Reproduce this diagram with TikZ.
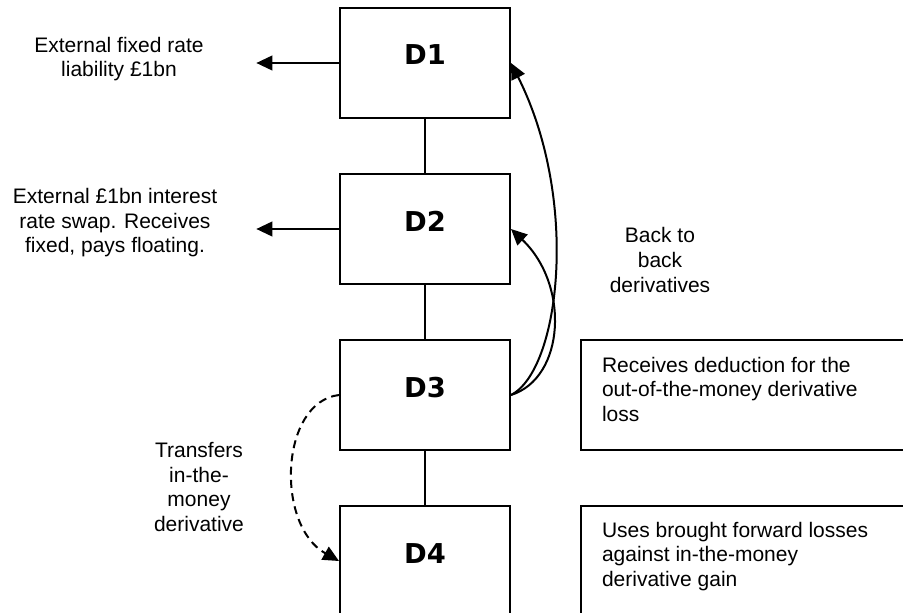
\documentclass[tikz,border=0pt]{standalone}
\usepackage{fontspec}
\setmainfont{Liberation Sans}
\newfontfamily\boxfont{DejaVu Sans}
\usetikzlibrary{arrows.meta,positioning}

\begin{document}
\begin{tikzpicture}[x=0.75pt,y=0.75pt,node distance=40.5pt,line width=1.5pt,
   >={Triangle[length=12pt,width=11pt]},
   dbox/.style={draw,minimum width=127.5pt,minimum height=82.5pt,text height=15pt,text depth=12pt,
      font=\boxfont\bfseries\fontsize{20.5}{24}\selectfont},
   notebox/.style={draw,minimum width=260pt,minimum height=82.5pt},
   txt/.style={draw=none,align=center,font=\fontsize{15.75}{18.4}\selectfont},
   notetxt/.style={draw=none,align=left,inner sep=0pt,anchor=north west,font=\fontsize{15.75}{18.4}\selectfont},
   link/.style={line width=1pt}]

   \useasboundingbox (0,0) rectangle (903,-613);

   \node[dbox] (d1) at (425,-63) {D1};
   \node[dbox,below=of d1] (d2) {D2};
   \node[dbox,below=of d2] (d3) {D3};
   \node[dbox,below=of d3] (d4) {D4};

   \draw[link] (d1) -- (d2);
   \draw[link] (d2) -- (d3);
   \draw[link] (d3) -- (d4);

   \node[notebox,right=51.75pt of d3] (n3) {};
   \node[notebox,right=51.75pt of d4] (n4) {};
   \node[notetxt] (t3) at ([xshift=15.75pt,yshift=-12.75pt]n3.north west) {Receives deduction for the\\out-of-the-money derivative\\loss};
   \node[notetxt] (t4) at ([xshift=15.75pt,yshift=-12pt]n4.north west) {Uses brought forward losses\\against in-the-money\\derivative gain};

   \node[txt] (l1) at (119,-59) {External fixed rate\\liability £1bn};
   \node[txt] (l2) at (115,-223) {External £1bn interest\\rate swap. Receives\\fixed, pays floating.};
   \node[txt] (l3) at (660,-260) {Back to\\back\\derivatives};
   \node[txt] (l4) at (199,-487) {Transfers\\in-the-\\money\\derivative};

   \coordinate (e1) at ([xshift=-62pt]d1.west);
   \coordinate (e2) at ([xshift=-62pt]d2.west);
   \draw[->] (d1.west) -- (e1);
   \draw[->] (d2.west) -- (e2);

   \draw[->] (d3.east) .. controls (560,-370) and (580,-200) .. (d1.east);
   \draw[->] (d3.east) .. controls (565,-378) and (570,-285) .. (d2.east);
   \draw[->,dash pattern=on 6pt off 4pt] (d3.west) .. controls (280,-402) and (275,-525) .. (d4.west);

\end{tikzpicture}
\end{document}
